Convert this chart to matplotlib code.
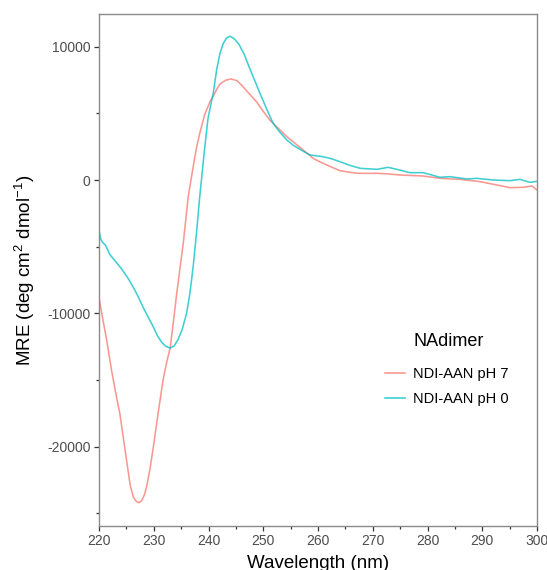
import numpy as np
import matplotlib
matplotlib.use('Agg')
import matplotlib.pyplot as plt
from matplotlib.ticker import MultipleLocator

plt.rcParams['font.family'] = ['Liberation Sans', 'DejaVu Sans']
plt.rcParams['mathtext.fontset'] = 'custom'
plt.rcParams['mathtext.rm'] = 'Liberation Sans'
plt.rcParams['mathtext.it'] = 'Liberation Sans:italic'

# CD spectra
wl_ph7 = [220.0, 220.5, 221.4, 222.3, 223.3, 223.8, 224.5, 225.1, 225.7, 226.3,
          226.8, 227.3, 227.8, 228.3, 228.7, 229.3, 229.9, 230.8, 231.7, 232.4,
          233.0, 233.6, 234.2, 235.4, 236.3, 237.2, 237.8, 238.4, 239.3, 240.3,
          240.9, 241.5, 242.1, 243.1, 244.1, 245.2, 246.3, 247.6, 248.9, 250.0,
          251.2, 252.8, 254.3, 255.8, 257.3, 258.5, 259.1, 260.4, 261.6, 264.0,
          267.1, 270.8, 273.0, 275.0, 279.2, 282.3, 285.9, 289.6, 292.7, 295.1,
          297.4, 299.1, 300.0]
mre_ph7 = [-8800, -10000, -12000, -14300, -16500, -17500, -19500, -21200, -22900, -23800,
           -24100, -24200, -24050, -23600, -23000, -21700, -20100, -17500, -15000, -13600,
           -12600, -10600, -8500, -4700, -1250, 1000, 2400, 3500, 4900, 5900,
           6300, 6800, 7200, 7480, 7580, 7450, 7000, 6400, 5800, 5150,
           4500, 3850, 3250, 2750, 2250, 1850, 1625, 1350, 1125, 700,
           500, 500, 450, 375, 300, 125, 50, -125, -375, -575,
           -550, -450, -750]

wl_ph0 = [220.0, 220.3, 220.6, 221.2, 222.0, 223.0, 224.0, 224.7, 225.5, 226.2,
          227.1, 228.0, 229.0, 229.9, 230.7, 231.5, 232.3, 233.0, 233.7, 234.4,
          235.2, 236.0, 236.6, 237.2, 237.8, 238.4, 239.2, 239.9, 240.9, 241.5,
          242.1, 242.7, 243.3, 243.9, 244.7, 245.6, 246.5, 247.4, 248.5, 249.4,
          250.6, 251.8, 253.0, 254.3, 255.5, 256.7, 258.5, 260.9, 262.4, 264.0,
          265.8, 267.7, 270.8, 272.8, 274.4, 276.8, 279.2, 282.3, 284.1, 287.2,
          289.0, 292.0, 295.1, 296.9, 298.7, 299.6, 300.0]
mre_ph0 = [-3800, -4400, -4650, -4900, -5600, -6100, -6600, -7000, -7500, -8000,
           -8700, -9500, -10300, -11000, -11700, -12200, -12500, -12600, -12450, -12000,
           -11200, -10000, -8500, -6500, -4000, -1250, 2000, 4600, 6600, 8300,
           9500, 10250, 10650, 10780, 10600, 10150, 9450, 8500, 7400, 6500,
           5350, 4250, 3600, 3000, 2600, 2300, 1875, 1750, 1600, 1375,
           1100, 875, 800, 950, 800, 550, 550, 200, 250, 75,
           125, 0, -50, 50, -175, -125, -100]

labels = ['NDI-AAN pH 7', 'NDI-AAN pH 0']
colors = ['#F8766D', '#00BFC4']

fig = plt.figure(figsize=(5.47, 5.70), dpi=100)
ax = fig.add_axes([99 / 547, 44 / 570, 438 / 547, 512 / 570])

ax.plot(wl_ph7, mre_ph7, color=colors[0], lw=1.15, alpha=0.75, label=labels[0])
ax.plot(wl_ph0, mre_ph0, color=colors[1], lw=1.15, alpha=0.75, label=labels[1])

ax.set_xlim(220, 300)
ax.set_ylim(-25950, 12450)
ax.xaxis.set_major_locator(MultipleLocator(10))
ax.xaxis.set_minor_locator(MultipleLocator(5))
ax.yaxis.set_major_locator(MultipleLocator(10000))
ax.yaxis.set_minor_locator(MultipleLocator(5000))
ax.yaxis.set_major_formatter(plt.FuncFormatter(lambda v, p: f'{int(v)}'))

ax.tick_params(which='major', length=3.6, width=0.9, color='#333333',
               labelsize=10, labelcolor='#4D4D4D', pad=2.5)
ax.tick_params(which='minor', length=2.0, width=0.9, color='#333333')
for s in ax.spines.values():
    s.set_color('#8a8a8a')
    s.set_linewidth(1.0)

ax.set_xlabel('Wavelength (nm)', fontsize=13.5, labelpad=4.5)
ax.set_ylabel('MRE (deg cm$^{2}$ dmol$^{-1}$)', fontsize=13.5)
ax.yaxis.set_label_coords(-0.141, 0.5)

leg = ax.legend(loc='center left', bbox_to_anchor=(0.653, 0.273), frameon=False,
                fontsize=10.5, handlelength=1.4, handletextpad=0.55,
                labelspacing=0.75, borderpad=0, borderaxespad=0)
for line in leg.get_lines():
    line.set_linewidth(1.2)
ax.text(0.717, 0.361, 'NAdimer', transform=ax.transAxes, fontsize=13,
        va='center', ha='left')

fig.savefig('out.png', dpi=100)
